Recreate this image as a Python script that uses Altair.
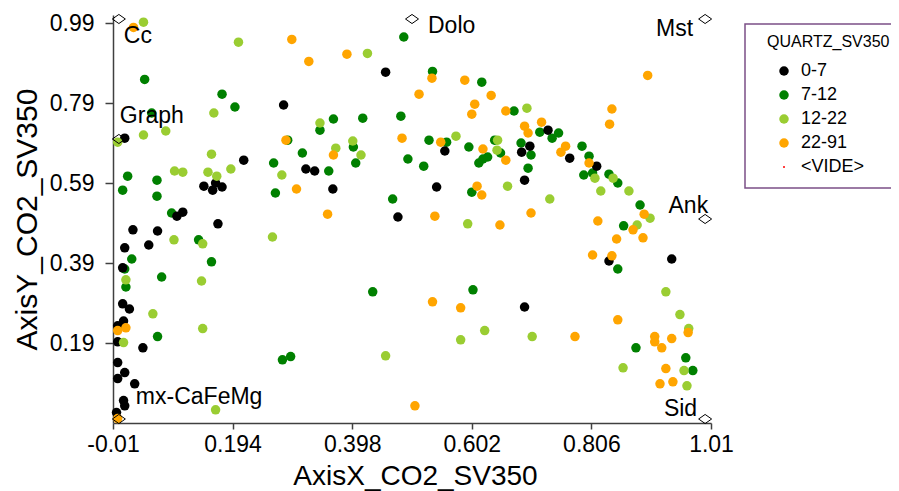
import altair as alt
import pandas as pd

FONT = "Liberation Sans"

categories = ["0-7", "7-12", "12-22", "22-91", "<VIDE>"]
cat_colors = ["#000000", "#008000", "#9acd32", "#ffa500", "#ff0000"]

# 0-7
black_x = [0.281, 0.010, 0.213, 0.145, 0.160, 0.165, 0.176, 0.099, 0.109, 0.169, 0.024, 0.066,
           0.010, 0.051, 0.0065, 0.0065, 0.018, 0.008, -0.002, -0.002, 0.041, -0.002, 0.010,
           -0.002, 0.027, 0.008, 0.010, -0.004, 0.455, 0.319, 0.334, 0.365, 0.476, 0.556, 0.542,
           0.732, 0.701, 0.687, 0.692, 0.769, 0.815, 0.836, 0.943, 0.692]
black_y = [0.785, 0.702, 0.647, 0.582, 0.572, 0.590, 0.580, 0.507, 0.517, 0.488, 0.473, 0.470,
           0.428, 0.435, 0.378, 0.288, 0.275, 0.245, 0.233, 0.193, 0.178, 0.141, 0.116,
           0.101, 0.088, 0.046, 0.033, 0.016, 0.867, 0.625, 0.620, 0.575, 0.505, 0.670, 0.580,
           0.722, 0.682, 0.667, 0.597, 0.652, 0.632, 0.395, 0.400, 0.280]

# 7-12
green_x = [0.044, 0.176, 0.198, 0.056, 0.264, 0.015, 0.065, 0.0065, 0.065, 0.267, 0.090, 0.136,
           0.022, 0.158, 0.010, 0.073, 0.012, 0.066, 0.279, 0.293, 0.288, 0.313, 0.343, 0.366,
           0.416, 0.481, 0.400, 0.404, 0.358, 0.493, 0.467, 0.486, 0.535, 0.619, 0.674, 0.718,
           0.739, 0.750, 0.529, 0.559, 0.597, 0.641, 0.651, 0.614, 0.621, 0.629, 0.686, 0.703,
           0.698, 0.790, 0.802, 0.793, 0.808, 0.836, 0.851, 0.602, 0.520, 0.889, 0.861, 0.851,
           0.882, 0.967, 0.979, 0.433, 0.604]
green_y = [0.849, 0.812, 0.780, 0.765, 0.640, 0.607, 0.597, 0.572, 0.557, 0.565, 0.515, 0.448,
           0.400, 0.393, 0.375, 0.355, 0.330, 0.206, 0.148, 0.156, 0.697, 0.665, 0.722, 0.750,
           0.752, 0.757, 0.680, 0.640, 0.620, 0.650, 0.550, 0.955, 0.869, 0.842, 0.770, 0.717,
           0.702, 0.715, 0.697, 0.692, 0.680, 0.697, 0.665, 0.640, 0.650, 0.655, 0.690, 0.660,
           0.627, 0.682, 0.657, 0.610, 0.615, 0.612, 0.590, 0.567, 0.632, 0.535, 0.483, 0.375,
           0.178, 0.153, 0.121, 0.318, 0.323]

# 12-22
ygreen_x = [0.042, 0.204, 0.162, 0.080, 0.042, -0.002, 0.158, 0.095, 0.109, 0.152, 0.167, 0.191,
            0.278, 0.094, 0.143, 0.262, 0.012, 0.141, 0.058, 0.143, 0.008, 0.165, 0.424, 0.343,
            0.370, 0.399, 0.413, 0.696, 0.575, 0.646, 0.645, 0.663, 0.735, 0.595, 0.812, 0.843,
            0.822, 0.870, 0.906, 0.884, 0.933, 0.957, 0.972, 0.964, 0.969, 0.860, 0.624, 0.583,
            0.705, 0.455]
ygreen_y = [0.992, 0.942, 0.765, 0.720, 0.710, 0.692, 0.662, 0.620, 0.617, 0.617, 0.607, 0.625,
            0.610, 0.448, 0.438, 0.455, 0.348, 0.345, 0.263, 0.226, 0.191, 0.023, 0.914, 0.740,
            0.677, 0.695, 0.660, 0.777, 0.707, 0.697, 0.672, 0.582, 0.550, 0.488, 0.602, 0.602,
            0.570, 0.570, 0.502, 0.485, 0.318, 0.261, 0.226, 0.121, 0.083, 0.128, 0.221, 0.198,
            0.206, 0.158]

# 22-91
orange_x = [0.025, 0.295, 0.324, 0.389, 0.534, 0.590, 0.512, 0.635, 0.607, 0.602, 0.660, 0.692,
            0.698, 0.721, 0.483, 0.285, 0.366, 0.303, 0.356, 0.549, 0.621, 0.660, 0.762, 0.754,
            0.802, 0.611, 0.619, 0.539, 0.703, 0.650, 0.817, 0.841, 0.837, 0.902, 0.896, 0.877,
            0.849, 0.894, 0.808, 0.841, 0.851, 0.971, 0.914, 0.914, 0.926, 0.943, 0.933, 0.923,
            0.945, 0.778, 0.535, 0.583, 0.505, -0.002, 0.012, -0.002]
orange_y = [0.979, 0.949, 0.894, 0.912, 0.852, 0.847, 0.812, 0.809, 0.787, 0.762, 0.770, 0.732,
            0.715, 0.742, 0.702, 0.697, 0.660, 0.575, 0.512, 0.692, 0.675, 0.647, 0.682, 0.667,
            0.640, 0.582, 0.560, 0.507, 0.515, 0.485, 0.495, 0.775, 0.737, 0.859, 0.512, 0.473,
            0.450, 0.453, 0.410, 0.408, 0.248, 0.216, 0.206, 0.193, 0.178, 0.201, 0.126, 0.088,
            0.093, 0.206, 0.293, 0.278, 0.033, 0.221, 0.228, 0.001]

# end-members
em_names = ["Cc", "Dolo", "Mst", "Graph", "Ank", "Sid", "mx-CaFeMg"]
em_x = [0.0, 0.5, 1.0, 0.0, 1.0, 1.0, 0.0]
em_y = [1.0, 1.0, 1.0, 0.70, 0.50, 0.0, 0.0]

x_ticks = [-0.01, 0.194, 0.398, 0.602, 0.806, 1.01]
y_ticks = [0.19, 0.39, 0.59, 0.79, 0.99]

rows = []
for cat, xs, ys in [("7-12", green_x, green_y), ("0-7", black_x, black_y),
                    ("12-22", ygreen_x, ygreen_y), ("22-91", orange_x, orange_y)]:
    for xv, yv in zip(xs, ys):
        rows.append({"x": xv, "y": yv, "cat": cat})
pts = pd.DataFrame(rows)
em = pd.DataFrame({"name": em_names, "x": em_x, "y": em_y})

xscale = alt.Scale(domain=[-0.01, 1.01], nice=False, zero=False)
yscale = alt.Scale(domain=[-0.01, 1.01], nice=False, zero=False)

legend = alt.Legend(
    title="QUARTZ_SV350", orient="none", legendX=654, legendY=19,
    titleFont=FONT, titleFontSize=16, titleFontWeight="normal", titleColor="#000",
    labelFont=FONT, labelFontSize=18, labelColor="#000",
    padding=0, rowPadding=6, titlePadding=12, symbolOffset=8, labelOffset=8,
    symbolType="circle", symbolStrokeWidth=0,
    symbolSize=alt.ExprRef("datum.value == '<VIDE>' ? 4 : 90"),
)

xaxis = alt.Axis(
    values=x_ticks, labelExpr="toString(datum.value)", title="AxisX_CO2_SV350",
    titleX=302, titleY=61, titleBaseline="alphabetic", titleAlign="center",
    titleFontSize=28, tickSize=6, labelPadding=4, labelFlush=False,
)
yaxis = alt.Axis(
    values=y_ticks, labelExpr="toString(datum.value)", title="AxisY_CO2_SV350",
    titleX=-77, titleY=204, titleBaseline="alphabetic", titleAlign="center", titleAngle=270,
    titleFontSize=30, tickSize=8, labelPadding=11,
)

points = alt.Chart(pts).mark_circle(opacity=1, size=90).encode(
    x=alt.X("x:Q", scale=xscale, axis=xaxis),
    y=alt.Y("y:Q", scale=yscale, axis=yaxis),
    color=alt.Color("cat:N", scale=alt.Scale(domain=categories, range=cat_colors), legend=legend),
)

# legend frame (decoration)
frame = alt.Chart(pd.DataFrame({"k": [0]})).mark_rect(
    fill="#ffffff", stroke="#7b4f86", strokeWidth=1.5
).encode(x=alt.value(632), x2=alt.value(810), y=alt.value(9), y2=alt.value(173))

diamond = "M-1,0L0,-0.7L1,0L0,0.7Z"
diamonds = alt.Chart(em).mark_point(
    shape=diamond, filled=False, stroke="#000000", strokeWidth=1, size=169, opacity=1
).encode(x=alt.X("x:Q", scale=xscale), y=alt.Y("y:Q", scale=yscale))

label_style = {
    "Cc": ("left", 5, 24),
    "Dolo": ("left", 16, 14),
    "Mst": ("right", -12, 17),
    "Graph": ("left", 1, -16),
    "Ank": ("right", 3, -6),
    "Sid": ("right", -8, -3),
    "mx-CaFeMg": ("left", 17, -15),
}
texts = []
for name in em_names:
    al, dx, dy = label_style[name]
    texts.append(
        alt.Chart(em).transform_filter(alt.datum.name == name).mark_text(
            align=al, baseline="alphabetic", dx=dx, dy=dy, font=FONT, fontSize=23, color="#000"
        ).encode(x=alt.X("x:Q", scale=xscale), y=alt.Y("y:Q", scale=yscale), text="name:N")
    )

chart = alt.layer(frame, points, diamonds, *texts).properties(
    width=598, height=408,
    autosize=alt.AutoSizeParams(type="none"),
    padding={"left": 105, "top": 7, "right": 180, "bottom": 68},
).configure_view(stroke=None).configure_axis(
    grid=False, labelFont=FONT, labelFontSize=23, labelColor="#000",
    titleFont=FONT, titleFontWeight="normal", titleColor="#000",
    domainColor="#404040", domainWidth=1.5, tickColor="#404040", tickWidth=1.5,
)

chart.save("out.html", embed_options={"renderer": "svg", "actions": False})
